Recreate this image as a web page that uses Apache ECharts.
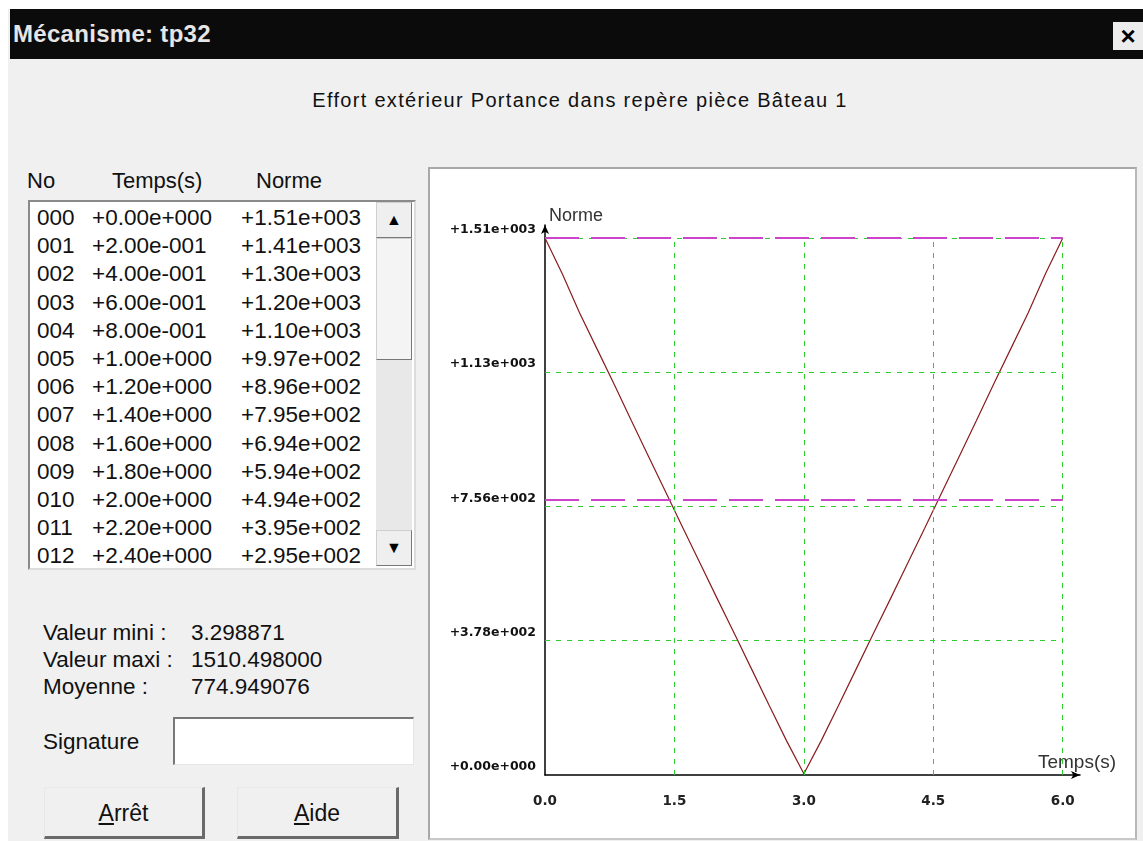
<!DOCTYPE html>
<html>
<head>
<meta charset="utf-8">
<script src="https://cdn.jsdelivr.net/npm/echarts@6/dist/echarts.min.js"></script>
<style>
  html, body { margin: 0; padding: 0; width: 1143px; height: 841px; overflow: hidden; background: #fff; }
  body { font-family: "Liberation Sans", Arial, sans-serif; color: #000; position: relative; }
  .abs { position: absolute; white-space: nowrap; }
  #dlg { position: absolute; left: 8px; top: 9px; width: 1135px; height: 832px; background: #f0f0f0; }
  #titlebar { position: absolute; left: 10px; top: 9px; width: 1133px; height: 50px; background: #0b0b0b; }
  #title { left: 13px; top: 20px; font-size: 24px; font-weight: bold; letter-spacing: 0.3px; color: #e6e6e6; }
  #close { left: 1113px; top: 22px; width: 30px; height: 28px; background: #ececec; font-size: 26px; font-weight: bold; text-align: center; line-height: 28px; }
  #subtitle { left: 0; width: 1160px; top: 89px; text-align: center; font-size: 20px; letter-spacing: 1.3px; color: #111; }
  .hdr { top: 168px; font-size: 22px; color: #111; }
  #list { left: 28px; top: 200px; width: 384px; height: 366px; background: #fff;
          border-top: 2px solid #8a8a8a; border-left: 2px solid #8a8a8a; border-right: 2px solid #dcdcdc; border-bottom: 2px solid #dcdcdc; }
  .row { font-size: 22.5px; line-height: 28px; height: 28px; color: #111; }
  #sb { left: 376px; top: 202px; width: 36px; height: 364px; background: #e8e8e8; }
  .sbbtn { position: absolute; left: 0; width: 34px; background: #efefef; border: 1px solid #cfcfcf; border-right-color: #777; border-bottom-color: #777; text-align: center; font-size: 16px; line-height: 33px; }
  .stat { font-size: 22.5px; color: #111; }
  #sig { left: 173px; top: 717px; width: 238px; height: 45px; background: #fff;
         border-top: 2px solid #777; border-left: 2px solid #777; border-right: 1px solid #e6e6e6; border-bottom: 1px solid #e6e6e6; }
  .btn { top: 787px; height: 48px; background: #f0f0f0; border: 1px solid #e8e8e8; border-right: 3px solid #6a6a6a; border-bottom: 3px solid #6a6a6a;
         font-size: 23px; text-align: center; line-height: 50px; color: #111; }
  #panel { left: 428px; top: 167px; width: 705px; height: 669px; background: #fff;
           border-top: 2px solid #a8a8a8; border-left: 2px solid #a8a8a8; border-right: 2px solid #b8b8b8; border-bottom: 2px solid #c8c8c8; }
  #chart { position: absolute; left: 0; top: 0; width: 705px; height: 669px; }
</style>
</head>
<body>
<div id="dlg"></div>
<div id="titlebar"></div>
<div class="abs" id="title">Mécanisme: tp32</div>
<div class="abs" id="close">×</div>
<div class="abs" id="subtitle">Effort extérieur Portance dans repère pièce Bâteau 1</div>

<div class="abs hdr" style="left:27px">No</div>
<div class="abs hdr" style="left:112px">Temps(s)</div>
<div class="abs hdr" style="left:256px">Norme</div>

<div class="abs" id="list"></div>
<div class="abs" id="sb">
  <div class="sbbtn" style="top:0;height:34px">&#9650;</div>
  <div class="sbbtn" style="top:36px;height:120px;background:#f4f4f4"></div>
  <div class="sbbtn" style="top:328px;height:34px">&#9660;</div>
</div>

<div class="abs stat" style="left:43px;top:620px">Valeur mini :</div>
<div class="abs stat" style="left:43px;top:647px">Valeur maxi :</div>
<div class="abs stat" style="left:43px;top:674px">Moyenne :</div>
<div class="abs stat" id="vmin" style="left:191px;top:620px"></div>
<div class="abs stat" id="vmax" style="left:191px;top:647px"></div>
<div class="abs stat" id="vmoy" style="left:191px;top:674px"></div>
<div class="abs stat" style="left:43px;top:729px">Signature</div>
<div class="abs" id="sig"></div>
<div class="abs btn" style="left:44px;width:157px"><u>A</u>rrêt</div>
<div class="abs btn" style="left:237px;width:158px"><u>A</u>ide</div>

<div class="abs" id="panel"><div id="chart"></div></div>

<script>
const timeValues = [0.0, 0.2, 0.4, 0.6, 0.8, 1.0, 1.2, 1.4, 1.6, 1.8, 2.0, 2.2, 2.4, 2.6, 2.8, 3.0,
  3.2, 3.4, 3.6, 3.8, 4.0, 4.2, 4.4, 4.6, 4.8, 5.0, 5.2, 5.4, 5.6, 5.8, 6.0];
const normeValues = [1510.498, 1410, 1300, 1200, 1100, 997, 896, 795, 694, 594, 494, 395, 295, 195, 96, 3.298871,
  96, 195, 295, 395, 494, 594, 694, 795, 896, 997, 1100, 1200, 1300, 1410, 1510.498];

// statistiques affichées
const statMin = 3.298871;
const statMax = 1510.498;
const statMean = 774.949076;

// graduations
const xTicks = [0, 1.5, 3.0, 4.5, 6.0];
const xTickLabels = ['0.0', '1.5', '3.0', '4.5', '6.0'];
const yTicks = [0, 377.62, 755.25, 1132.87, 1510.498];
const yTickLabels = ['+0.00e+000', '+3.78e+002', '+7.56e+002', '+1.13e+003', '+1.51e+003'];

// nombre de lignes visibles dans la liste
const visibleRows = 13;

// format style C : +1.51e+003
function cExp(v) {
  let s = Math.abs(v).toExponential(2).split('e');
  let e = parseInt(s[1], 10);
  return (v < 0 ? '-' : '+') + s[0] + 'e' + (e < 0 ? '-' : '+') + String(Math.abs(e)).padStart(3, '0');
}

// remplir la liste
let list = document.getElementById('list');
for (let i = 0; i < visibleRows; i++) {
  let top = 2 + i * 28.2;
  list.insertAdjacentHTML('beforeend',
    `<div class="abs row" style="left:7px;top:${top}px">${String(i).padStart(3, '0')}</div>` +
    `<div class="abs row" style="left:62px;top:${top}px">${cExp(timeValues[i])}</div>` +
    `<div class="abs row" style="left:211px;top:${top}px">${cExp(normeValues[i])}</div>`);
}
document.getElementById('vmin').textContent = statMin.toFixed(6);
document.getElementById('vmax').textContent = statMax.toFixed(6);
document.getElementById('vmoy').textContent = statMean.toFixed(6);

function pickLabel(ticks, labels, v) {
  for (let i = 0; i < ticks.length; i++) {
    if (Math.abs(ticks[i] - v) < 1e-6) return labels[i];
  }
  return '';
}

// lignes de grille vertes
let gridLines = [];
xTicks.forEach(x => {
  if (x > 0) gridLines.push([{ coord: [x, 0] }, { coord: [x, statMax] }]);
});
yTicks.forEach(y => {
  if (y > 0) gridLines.push([{ coord: [0, y] }, { coord: [xTicks[xTicks.length - 1], y] }]);
});

const chart = echarts.init(document.getElementById('chart'));

chart.setOption({
  animation: false,
  backgroundColor: '#ffffff',
  grid: { left: 115, top: 56, right: 55, bottom: 63 },
  xAxis: {
    type: 'value',
    min: 0,
    max: 6.2,
    name: 'Temps(s)',
    nameLocation: 'end',
    nameGap: -3,
    nameTextStyle: { fontFamily: 'Liberation Sans', fontSize: 19, color: '#333', align: 'center', verticalAlign: 'bottom', padding: [0, 0, 3, 0] },
    axisLine: { lineStyle: { color: '#000', width: 1.5 }, symbol: ['none', 'arrow'], symbolSize: [6, 9] },
    axisTick: { show: false },
    splitLine: { show: false },
    axisLabel: {
      customValues: xTicks,
      margin: 19,
      fontFamily: 'DejaVu Sans',
      fontWeight: 'bold',
      fontSize: 13.5,
      color: '#222',
      formatter: v => pickLabel(xTicks, xTickLabels, v)
    }
  },
  yAxis: {
    type: 'value',
    min: 0,
    max: 1547,
    name: 'Norme',
    nameLocation: 'end',
    nameGap: 0,
    nameTextStyle: { fontFamily: 'Liberation Sans', fontSize: 18, color: '#333', align: 'left', verticalAlign: 'bottom', padding: [0, 0, 0, 4] },
    axisLine: { lineStyle: { color: '#000', width: 1.5 }, symbol: ['none', 'arrow'], symbolSize: [6, 9] },
    axisTick: { show: false },
    splitLine: { show: false },
    axisLabel: {
      customValues: yTicks,
      margin: 9,
      fontFamily: 'DejaVu Sans',
      fontWeight: 'bold',
      fontSize: 12.5,
      color: '#111',
      verticalAlign: 'bottom',
      lineHeight: 16,
      formatter: v => pickLabel(yTicks, yTickLabels, v)
    }
  },
  series: [
    {
      // grille
      type: 'line',
      data: [],
      z: 1,
      markLine: {
        silent: true,
        symbol: 'none',
        label: { show: false },
        lineStyle: { color: '#2ecc2e', type: [5, 6], width: 1 },
        data: gridLines
      }
    },
    {
      type: 'line',
      z: 3,
      data: timeValues.map((t, i) => [t, normeValues[i]]),
      showSymbol: false,
      lineStyle: { color: '#8a1c1c', width: 1.2 },
      markLine: {
        silent: true,
        symbol: 'none',
        label: { show: false },
        lineStyle: { color: '#cc44cc', type: [34, 12], width: 2 },
        data: [
          [{ coord: [0, statMax] }, { coord: [xTicks[xTicks.length - 1], statMax] }],
          [{ coord: [0, statMean] }, { coord: [xTicks[xTicks.length - 1], statMean] }]
        ]
      }
    }
  ]
});
</script>
</body>
</html>
